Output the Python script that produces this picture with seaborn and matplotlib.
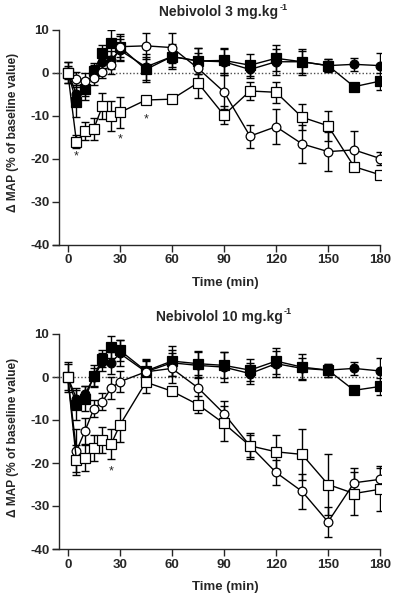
import numpy as np
import pandas as pd
import matplotlib
matplotlib.use("Agg")
import matplotlib.pyplot as plt
import seaborn as sns

# time points (min)
time = [0, 5, 10, 15, 20, 25, 30, 45, 60, 75, 90, 105, 120, 135, 150, 165, 180]

# Nebivolol 3 mg/kg
fc_3 = [0, -5.0, -3.5, 0.3, 2.5, 2.9, 5.2, 1.3, 3.7, 2.7, 2.5, 0.7, 2.5, 2.5, 1.6, 1.9, 1.6]
fc_3_sem = [2.5, 2, 2, 1.5, 1.5, 2, 2.5, 3, 3, 3, 3, 2, 3, 2.5, 1.5, 1.5, 3]
fs_3 = [0, -6.8, -3.9, 0.3, 4.5, 6.9, 6.0, 0.7, 3.7, 2.7, 2.8, 1.7, 3.3, 2.5, 1.6, -3.3, -2.0]
fs_3_sem = [2.5, 3.5, 2.5, 2, 2, 3, 3, 3, 2.5, 3, 3, 2.5, 3, 3, 1.5, 0.3, 2]
oc_3 = [0, -1.4, -2.0, -1.3, 0.2, 1.7, 6.0, 6.2, 5.8, 1.0, -4.5, -14.8, -12.6, -16.6, -18.4, -18.0, -20.0]
oc_3_sem = [1.5, 1.5, 2, 1.5, 1.5, 2, 2.5, 3, 3.5, 3.5, 4, 2.7, 4, 4.5, 4.5, 4.5, 1.5]
os_3 = [0, -16.1, -13.6, -13.1, -7.8, -10.1, -9.3, -6.4, -6.2, -2.4, -9.9, -4.3, -4.6, -10.4, -12.4, -21.9, -23.8]
os_3_sem = [1, 1.5, 2, 2.5, 3, 3.5, 3.5, 1, 1, 3.5, 2, 2, 2.5, 3, 3.5, 0.5, 0.5]

# Nebivolol 10 mg/kg
fc_10 = [0, -5.0, -4.0, 0.0, 3.5, 3.3, 5.5, 1.2, 3.3, 2.7, 2.3, 0.8, 3.1, 2.0, 1.6, 2.0, 1.4]
fc_10_sem = [3, 2.5, 2, 2, 2, 2.5, 3, 2.5, 3, 3, 3.5, 2.5, 3, 2.5, 1.5, 1.5, 3]
fs_10 = [0, -6.6, -5.0, 0.2, 4.3, 7.0, 6.2, 1.4, 3.7, 3.1, 2.7, 1.6, 3.7, 2.3, 1.6, -3.1, -2.2]
fs_10_sem = [3.5, 3.5, 3, 2.5, 2, 2.5, 2.5, 2.5, 3.5, 3, 3, 2.5, 3, 3, 1.5, 0.5, 2]
oc_10 = [0, -17.2, -12.5, -7.4, -5.7, -2.6, -1.1, 1.2, 2.0, -2.5, -8.5, -16.0, -22.2, -26.6, -33.7, -24.6, -23.8]
oc_10_sem = [1, 5, 3, 2, 2, 2.5, 2.5, 3, 3.5, 3, 3, 3, 3, 4, 3.5, 3.5, 3]
os_10 = [0, -19.4, -18.8, -16.5, -14.7, -15.6, -11.2, -1.2, -3.3, -6.4, -10.8, -16.0, -17.4, -18.0, -25.0, -27.1, -26.1]
os_10_sem = [1, 3.5, 3, 3, 3, 3.5, 4, 2.5, 1, 2, 4, 2.5, 4, 6, 7, 5, 5]

# significance markers (time, y)
stars_3 = [(5, -19.5), (30, -15.5), (45, -11)]
stars_10 = [(25, -22)]

sns.set_style("ticks")
plt.rcParams['font.family'] = ['Liberation Sans', 'DejaVu Sans']
plt.rcParams['font.weight'] = 'bold'
plt.rcParams['axes.unicode_minus'] = False

fig = plt.figure(figsize=(3.93, 5.96), dpi=100)
ax_top = fig.add_axes([53 / 393, 1 - 244.5 / 596, 328 / 393, 215 / 596])
ax_bot = fig.add_axes([53 / 393, 1 - 549 / 596, 328 / 393, 215 / 596])

styles = [
    ("o", "black"),   # filled circle
    ("s", "black"),   # filled square
    ("o", "white"),   # open circle
    ("s", "white"),   # open square
]


def draw_panel(ax, series, dose, stars):
    ax.axhline(0, color="0.3", lw=1.0, ls=(0, (1, 1.5)), zorder=1)
    for (mean, sem), (mk, fc) in zip(series, styles):
        ax.errorbar(time, mean, yerr=sem, fmt="none", ecolor="black",
                    elinewidth=1.0, capsize=3.2, capthick=1.0, zorder=2)
    for (mean, sem), (mk, fc) in zip(series, styles):
        df = pd.DataFrame({"time": time, "map": mean})
        sns.lineplot(data=df, x="time", y="map", ax=ax, color="black",
                     lw=1.0, marker=mk, markersize=6.5 if mk == "s" else 6.3,
                     markerfacecolor=fc, markeredgecolor="black",
                     markeredgewidth=0.9, zorder=3)
    for t, y in stars:
        ax.text(t, y, "*", ha="center", va="center", fontsize=9, fontweight="normal")

    ax.set_xlim(-8.5, 180.5)
    ax.set_ylim(-40, 10)
    ax.spines["left"].set_position(("data", -5))
    ax.spines["left"].set_bounds(-40, 10)
    ax.spines["bottom"].set_bounds(-8.5, 180)
    sns.despine(ax=ax)
    ax.spines["left"].set_linewidth(1.0)
    ax.spines["bottom"].set_linewidth(1.0)
    ax.set_xticks([0, 30, 60, 90, 120, 150, 180])
    ax.set_yticks([10, 0, -10, -20, -30, -40])
    ax.tick_params(direction="out", length=5, width=1.0, labelsize=9.5, pad=2)
    for lab in ax.get_xticklabels() + ax.get_yticklabels():
        lab.set_fontweight("bold")
    ax.set_xlabel("Time (min)", fontsize=9.5, fontweight="bold")
    ax.xaxis.set_label_coords(172 / 328, -0.15)
    ax.set_ylabel("Δ MAP (% of baseline value)", fontsize=8.6, fontweight="bold")
    ax.yaxis.set_label_coords(-34 / 328, 0.52)
    # title with superscript drawn as separate text
    t_main = ax.text(166 / 328, 1.08, f"Nebivolol {dose} mg.kg", transform=ax.transAxes,
                     ha="center", va="center", fontsize=10, fontweight="bold")
    ax.annotate("-1", xy=(1, 0.55), xycoords=t_main, xytext=(0.5, 0),
                textcoords="offset points", ha="left", va="bottom",
                fontsize=6.5, fontweight="bold")


draw_panel(ax_top, [(fc_3, fc_3_sem), (fs_3, fs_3_sem), (oc_3, oc_3_sem), (os_3, os_3_sem)],
           "3", stars_3)
draw_panel(ax_bot, [(fc_10, fc_10_sem), (fs_10, fs_10_sem), (oc_10, oc_10_sem), (os_10, os_10_sem)],
           "10", stars_10)

fig.savefig("out.png", dpi=100)
